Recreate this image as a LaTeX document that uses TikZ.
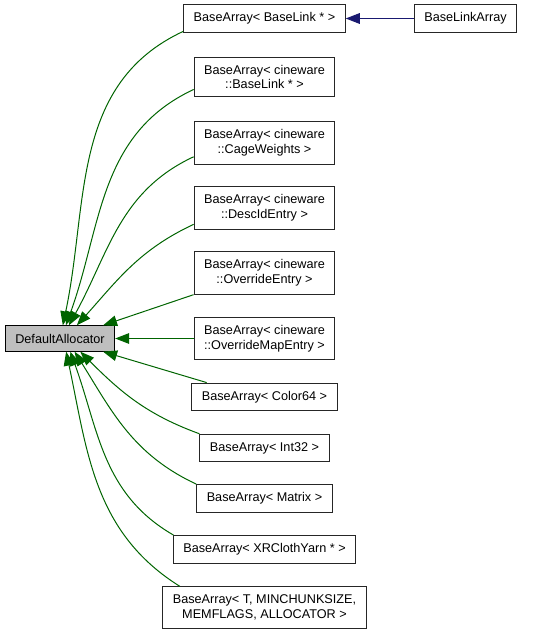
\documentclass[tikz,border=0pt]{standalone}
\usepackage{fontspec}
\setmainfont{Liberation Sans}
\usetikzlibrary{arrows.meta}

\definecolor{inhgreen}{RGB}{0,100,0}
\definecolor{inhblue}{RGB}{25,25,112}

\begin{document}
\begin{tikzpicture}[x=0.75pt, y=-0.75pt,
    cls/.style={draw=black!85, fill=white, line width=0.75pt, align=center,
                font=\fontsize{9.5}{11}\selectfont, inner xsep=7.5pt,
                inner ysep=6pt, minimum height=19pt},
    inh/.style={inhgreen, line width=0.75pt,
                {Triangle[length=10.5pt, width=8pt]}-},
    usr/.style={inhblue, line width=0.75pt,
                {Triangle[length=10.5pt, width=8pt]}-}]
          \useasboundingbox (0,0) rectangle (548,634);

          \node[cls, fill={rgb,255:red,191;green,191;blue,191}, draw=black]
                    (da)  at (60,  338.5) {DefaultAllocator};

          \node[cls] (bl)  at (264.5,  18.5) {BaseArray< BaseLink * >};
          \node[cls] (bla) at (465.5,  18.5) {BaseLinkArray};
          \node[cls] (cbl) at (264.5,    77) {BaseArray< cineware\\::BaseLink * >};
          \node[cls] (cw)  at (264.5,   143) {BaseArray< cineware\\::CageWeights >};
          \node[cls] (did) at (264.5,   208) {BaseArray< cineware\\::DescIdEntry >};
          \node[cls] (oe)  at (264.5,   273) {BaseArray< cineware\\::OverrideEntry >};
          \node[cls] (ome) at (264.5, 338.5) {BaseArray< cineware\\::OverrideMapEntry >};
          \node[cls] (c64) at (264.5,   397) {BaseArray< Color64 >};
          \node[cls] (i32) at (264.5,   448) {BaseArray< Int32 >};
          \node[cls] (mx)  at (264.5, 498.5) {BaseArray< Matrix >};
          \node[cls] (xr)  at (264.5, 549.5) {BaseArray< XRClothYarn * >};
          \node[cls] (tt)  at (264.5, 607.5) {BaseArray< T, MINCHUNKSIZE,\\ MEMFLAGS, ALLOCATOR >};

          \draw[usr] (bl.east) -- (bla.west);

          \draw[inh] (da.78)  to[out=78, in=205] (bl.189.5);
          \draw[inh] (da.66)  to[out=70, in=205] (cbl.190);
          \draw[inh] (da.56)  to[out=61, in=205] (cw.191);
          \draw[inh] (da.38)  to[out=48, in=205] (did.193);
          \draw[inh] (da.17)  -- (oe.197);
          \draw[inh] (da.east) -- (ome.west);
          \draw[inh] (da.-17) -- (c64.166);
          \draw[inh] (da.-33) to[out=-45, in=160] (i32.north west);
          \draw[inh] (da.-42) to[out=-58, in=155] (mx.north west);
          \draw[inh] (da.-52) to[out=-70, in=150] (xr.171);
          \draw[inh] (da.-65) to[out=-78, in=148] (tt.166);
        \end{tikzpicture}
\end{document}
